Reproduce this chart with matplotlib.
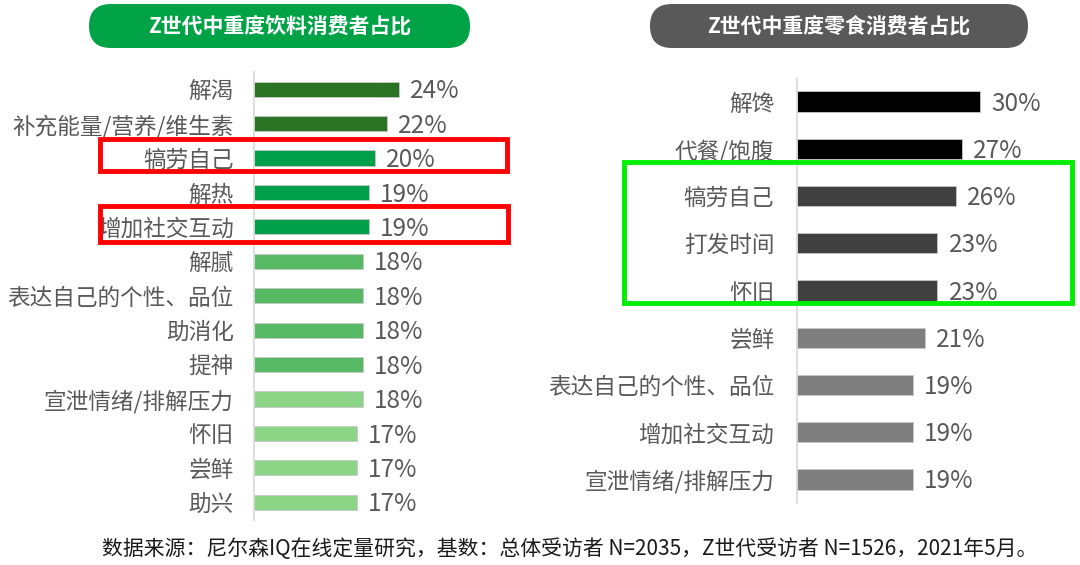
import matplotlib
matplotlib.use("Agg")
import matplotlib.pyplot as plt
from matplotlib.patches import FancyBboxPatch, Rectangle

plt.rcParams["font.family"] = ["Noto Sans CJK SC", "DejaVu Sans"]

# --- data ---
drink_labels = ["解渴", "补充能量/营养/维生素", "犒劳自己", "解热", "增加社交互动", "解腻",
                "表达自己的个性、品位", "助消化", "提神", "宣泄情绪/排解压力", "怀旧", "尝鲜", "助兴"]
drink_values = [24, 22, 20, 19, 19, 18, 18, 18, 18, 18, 17, 17, 17]
drink_colors = ["#2a7322"] * 2 + ["#00a04a"] * 3 + ["#58b964"] * 4 + ["#8dd586"] * 4

snack_labels = ["解馋", "代餐/饱腹", "犒劳自己", "打发时间", "怀旧", "尝鲜",
                "表达自己的个性、品位", "增加社交互动", "宣泄情绪/排解压力"]
snack_values = [30, 27, 26, 23, 23, 21, 19, 19, 19]
snack_colors = ["#000000"] * 2 + ["#404040"] * 3 + ["#7f7f7f"] * 4

drink_title = "Z世代中重度饮料消费者占比"
snack_title = "Z世代中重度零食消费者占比"
footnote = "数据来源：尼尔森IQ在线定量研究，基数：总体受访者 N=2035，Z世代受访者 N=1526，2021年5月。"

TEXT = "#595959"
W, H = 1080, 565

fig = plt.figure(figsize=(W / 100, H / 100), dpi=100)


def bar_panel(rect, labels, values, colors, height, pad):
    ax = fig.add_axes(rect)
    y = range(len(labels))
    ax.barh(y, values, height=height, color=colors, edgecolor="#c8c8c8", linewidth=0.6)
    ax.set_xlim(0, 40)
    ax.set_ylim(len(labels) - 0.5, -0.5)
    ax.set_yticks(list(y))
    ax.set_yticklabels(labels, fontsize=16.3, color=TEXT)
    ax.tick_params(axis="y", length=0, pad=pad)
    ax.set_xticks([])
    for s in ["top", "right", "bottom"]:
        ax.spines[s].set_visible(False)
    ax.spines["left"].set_color("#d9d9d9")
    ax.spines["left"].set_linewidth(1.2)
    ax.patch.set_alpha(0)
    for yi, v in zip(y, values):
        ax.annotate(f"{v}%", (v, yi), xytext=(8, -1.5), textcoords="offset points",
                    va="center", ha="left", fontsize=17.5, color=TEXT)
    return ax


# left panel: rows at y 89..502 px, axis at x 254.5
bar_panel([254.5 / W, 1 - 519.5 / H, 240 / W, 447.5 / H],
          drink_labels, drink_values, drink_colors, 0.44, 15)
# right panel: rows at y 101..479 px, axis at x 796.5
bar_panel([796.5 / W, 1 - 503 / H, 245 / W, 425 / H],
          snack_labels, snack_values, snack_colors, 0.43, 16)

# overlay in pixel coordinates for pills, highlight boxes, footnote
ov = fig.add_axes([0, 0, 1, 1])
ov.set_xlim(0, W)
ov.set_ylim(H, 0)
ov.axis("off")
ov.patch.set_alpha(0)

for x0, x1, col, title in [(89, 470, "#00a246", drink_title),
                           (650, 1028, "#595959", snack_title)]:
    ov.add_patch(FancyBboxPatch((x0, 4), x1 - x0, 44,
                                boxstyle="round,pad=0,rounding_size=22",
                                facecolor=col, edgecolor="none"))
    ov.text((x0 + x1) / 2, 27, title, ha="center", va="center", color="white",
            fontsize=15, fontweight="bold")

for x0, y0, x1, y1, col in [(99.5, 139, 507, 171, "#ff0000"),
                            (99.5, 206, 508, 242, "#ff0000"),
                            (624, 162, 1072, 303, "#00ee00")]:
    ov.add_patch(Rectangle((x0, y0), x1 - x0, y1 - y0, fill=False,
                           edgecolor=col, linewidth=3.5))

ov.text(570, 549, footnote, ha="center", va="center", fontsize=15, color="#1a1a1a")

fig.savefig("out.png", dpi=100)
